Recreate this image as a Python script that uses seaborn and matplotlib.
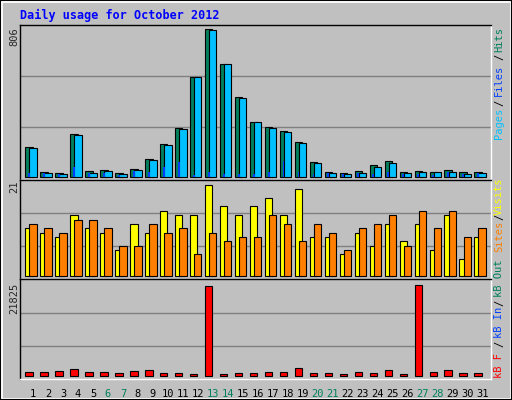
import matplotlib
matplotlib.use("Agg")
import matplotlib.pyplot as plt
import seaborn as sns
import numpy as np

sns.set_style("white")
plt.rcParams['font.family'] = ['DejaVu Sans Mono']

days = list(range(1, 32))
weekend = [6, 7, 13, 14, 20, 21, 27, 28]
hits = [162, 24, 20, 232, 29, 35, 20, 40, 95, 177, 264, 545, 806, 615, 434, 297,
        272, 248, 188, 78, 24, 18, 29, 64, 84, 24, 29, 26, 36, 24, 24]
pages = [155, 18, 13, 226, 18, 29, 13, 35, 89, 171, 259, 543, 801, 615, 429, 297,
         265, 243, 182, 73, 18, 13, 18, 53, 73, 18, 24, 24, 24, 13, 18]
files = [22, 18, 15, 53, 18, 18, 8, 29, 24, 53, 78, 8, 24, 15, 15, 15,
         24, 84, 24, 15, 18, 13, 18, 15, 24, 15, 15, 11, 24, 15, 18]
visits = [11, 10, 9, 14, 11, 10, 6, 12, 10, 15, 14, 14, 21, 16, 14, 16,
          18, 14, 20, 9, 9, 5, 10, 7, 12, 8, 12, 6, 14, 4, 9]
sites = [12, 11, 10, 13, 13, 11, 7, 7, 12, 10, 11, 5, 10, 8, 9, 9,
         14, 12, 8, 12, 10, 6, 11, 12, 14, 7, 15, 11, 15, 9, 11]
kbytes = [800, 800, 1040, 1520, 800, 800, 560, 1040, 1280, 560, 560, 320, 21665, 320, 560, 560,
          800, 800, 1765, 560, 560, 320, 800, 560, 1280, 320, 21825, 800, 1280, 560, 560]

BG = "#C0C0C0"
W, H = 512, 400
fig = plt.figure(figsize=(W/100, H/100), dpi=100, facecolor=BG)

def rect(l, t, r, b):
    return [l/W, 1-b/H, (r-l)/W, (b-t)/H]

x = np.array(days, dtype=float)
ax1 = fig.add_axes(rect(20, 25, 491, 180))
ax2 = fig.add_axes(rect(20, 180, 491, 279.3))
ax3 = fig.add_axes(rect(20, 279.3, 491, 379))
for ax in (ax1, ax2, ax3):
    ax.set_facecolor(BG)
    ax.set_xlim(0.13, 31.57)
    ax.set_xticks([]); ax.set_yticks([])
    for s in ("top", "left"):
        ax.spines[s].set_color("black")
    for s in ("bottom", "right"):
        ax.spines[s].set_color("white")
    for sp in ax.spines.values():
        sp.set_linewidth(1)

ec = dict(edgecolor="black", linewidth=0.8)
ax1.set_ylim(-18.2, 829.6)
for g in (270, 549):
    ax1.axhline(g, color="#808080", lw=1, zorder=0)
ax1.bar(x - 0.28, hits, width=0.51, color="#00805C", **ec, zorder=2)
ax1.bar(x - 0.01, pages, width=0.51, color="#00C0FF", **ec, zorder=3)
ax1.bar(x - 0.28, files, width=0.13, color="#0040FF", linewidth=0, zorder=4)

ax2.set_ylim(-0.69, 22.05)
for g in (6.87, 14.43):
    ax2.axhline(g, color="#808080", lw=1, zorder=0)
ax2.bar(x - 0.28, visits, width=0.51, color="#FFFF00", **ec, zorder=2)
ax2.bar(x - 0.01, sites, width=0.51, color="#FF8000", **ec, zorder=3)

ax3.set_ylim(-802, 23189)
for g in (7141, 15005):
    ax3.axhline(g, color="#808080", lw=1, zorder=0)
ax3.bar(x - 0.28, kbytes, width=0.51, color="#FF0000", **ec, zorder=2)

for d in days:
    ax3.text(d, -0.1, str(d), transform=ax3.get_xaxis_transform(), ha="center", va="top",
             fontsize=7.5, color="#00805C" if d in weekend else "black")

fig.text(20/W, 1-15/H, "Daily usage for October 2012", color="#0000FF",
         fontsize=8.5, fontweight="bold", va="center", ha="left")
fs = 7.5
fig.text(14/W, 1-37/H, "806", rotation=90, fontsize=fs, ha="center", va="center")
fig.text(14/W, 1-187/H, "21", rotation=90, fontsize=fs, ha="center", va="center")
fig.text(14/W, 1-298/H, "21825", rotation=90, fontsize=fs, ha="center", va="center")

def rlabel(yc, s, c):
    fig.text(499/W, 1-yc/H, s, rotation=90, fontsize=fs, ha="center", va="center", color=c)

rlabel(40, "Hits", "#00805C"); rlabel(57, "/", "black"); rlabel(80, "Files", "#0040FF")
rlabel(103, "/", "black"); rlabel(123, "Pages", "#00C0FF")
rlabel(196, "Visits", "#FFFF00"); rlabel(217, "/", "black"); rlabel(236, "Sites", "#FF8000")
rlabel(278, "kB Out", "#00805C"); rlabel(303, "/", "black"); rlabel(322, "kB In", "#0040FF")
rlabel(344, "/", "black"); rlabel(365, "kB F", "#FF0000")

fig.add_artist(plt.Rectangle((0.002, 0.002), 0.996, 0.996, transform=fig.transFigure,
                             fill=False, edgecolor="white", lw=2))
fig.add_artist(plt.Rectangle((0, 0), 1, 1, transform=fig.transFigure,
                             fill=False, edgecolor="black", lw=1.5))
fig.savefig("out.png", dpi=100, facecolor=BG)
